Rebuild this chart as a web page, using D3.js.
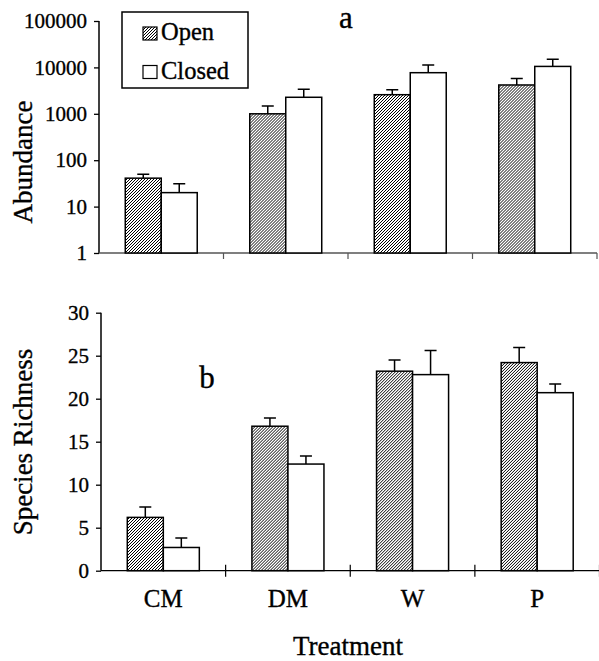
<!DOCTYPE html>
<html>
<head>
    <title>Abundance and species richness by treatment</title>
    <script src="https://cdnjs.cloudflare.com/ajax/libs/d3/7.8.5/d3.min.js"></script>
    <style>
        body { margin: 0; background: white; }
        text { font-family: "Liberation Serif", "DejaVu Serif", serif; fill: black;
               stroke: black; stroke-width: 0.35px; }
    </style>
</head>
<body>
<div id="graph"></div>
<script>
    var width = 599;
    var height = 661;

    // data
    var categories = ["CM", "DM", "W", "P"];
    var series = ["Open", "Closed"];
    var abundOpen = [41, 1000, 2580, 4180];
    var abundOpenErr = [9, 470, 720, 1550];
    var abundClosed = [20, 2270, 7690, 10500];
    var abundClosedErr = [11, 1100, 3510, 4400];
    var richOpen = [6.2, 16.8, 23.2, 24.2];
    var richOpenErr = [1.2, 0.95, 1.3, 1.75];
    var richClosed = [2.7, 12.4, 22.8, 20.7];
    var richClosedErr = [1.1, 0.95, 2.8, 1.0];
    var abundTicks = [1, 10, 100, 1000, 10000, 100000];
    var richTicks = [0, 5, 10, 15, 20, 25, 30];

    var svg = d3.select("#graph").append("svg")
            .attr("width", width)
            .attr("height", height)
            .attr("font-family", "'Liberation Serif', serif");

    var defs = svg.append("defs");
    var pat = defs.append("pattern")
            .attr("id", "hatch")
            .attr("patternUnits", "userSpaceOnUse")
            .attr("width", 3)
            .attr("height", 3);
    pat.append("rect").attr("width", 3).attr("height", 3).attr("fill", "white");
    pat.append("path")
            .attr("d", "M-1,1 L1,-1 M0,3 L3,0 M2,4 L4,2")
            .attr("stroke", "black")
            .attr("stroke-width", 1);

    function makeRows(open, openErr, closed, closedErr) {
        return categories.map(function (c, i) {
            return {
                cat: c,
                bars: [
                    {s: "Open", v: open[i], e: openErr[i]},
                    {s: "Closed", v: closed[i], e: closedErr[i]}
                ]
            };
        });
    }

    function panel(opt) {
        var g = svg.append("g");
        var x = d3.scaleBand().domain(categories).range(opt.xRange);
        var xs = d3.scaleBand().domain(series).range([0, x.bandwidth()]).paddingOuter(0.73);
        var y = opt.y;

        // y axis
        var ya = g.append("g")
                .attr("transform", "translate(" + opt.xRange[0] + ",0)")
                .call(d3.axisLeft(y).tickValues(opt.ticks).tickSize(5).tickPadding(7)
                        .tickFormat(d3.format("d")));
        ya.attr("font-family", null);
        ya.select(".domain").attr("stroke-width", 1.5).attr("d",
                "M0," + y.range()[0] + "V" + y.range()[1]);
        ya.selectAll(".tick line").attr("stroke-width", 1.3);
        ya.selectAll("text").attr("font-size", "21px");

        // x axis line and category boundary ticks
        var base = y.range()[0];
        g.append("line")
                .attr("x1", opt.xRange[0]).attr("x2", opt.xRange[1])
                .attr("y1", base).attr("y2", base)
                .attr("stroke", opt.axisColor).attr("stroke-width", 1.3);
        var bounds = categories.map(function (c) { return x(c); }).concat([opt.xRange[1]]);
        g.selectAll(".xt").data(bounds.slice(1)).enter().append("line")
                .attr("x1", function (d) { return d; })
                .attr("x2", function (d) { return d; })
                .attr("y1", base - opt.tickUp).attr("y2", base + 6)
                .attr("stroke", opt.axisColor).attr("stroke-width", 1.2);

        var grp = g.selectAll(".grp").data(opt.rows).enter().append("g")
                .attr("transform", function (d) { return "translate(" + x(d.cat) + ",0)"; });

        // error bars (upper half only)
        grp.selectAll(".err").data(function (d) { return d.bars; }).enter().append("path")
                .attr("fill", "none").attr("stroke", "black").attr("stroke-width", 1.5)
                .attr("d", function (d) {
                    var cx = xs(d.s) + xs.bandwidth() / 2;
                    var y0 = y(d.v), y1 = y(d.v + d.e);
                    return "M" + cx + "," + y0 + "V" + y1 + "M" + (cx - 6) + "," + y1 + "H" + (cx + 6);
                });

        grp.selectAll(".bar").data(function (d) { return d.bars; }).enter().append("rect")
                .attr("x", function (d) { return xs(d.s); })
                .attr("width", xs.bandwidth())
                .attr("y", function (d) { return y(d.v); })
                .attr("height", function (d) { return base - y(d.v); })
                .attr("fill", function (d) { return d.s == "Open" ? "url(#hatch)" : "white"; })
                .attr("stroke", "black")
                .attr("stroke-width", 1.5);

        // y title
        g.append("text")
                .attr("transform", "translate(32," + opt.titleY + ") rotate(-90)")
                .attr("text-anchor", "middle")
                .attr("font-size", "27px")
                .text(opt.title);

        g.append("text")
                .attr("x", opt.letter[0]).attr("y", opt.letter[1])
                .attr("text-anchor", "middle")
                .attr("font-size", "31px")
                .text(opt.letter[2]);

        return x;
    }

    panel({
        rows: makeRows(abundOpen, abundOpenErr, abundClosed, abundClosedErr),
        y: d3.scaleLog().domain([1, 100000]).range([253, 21]),
        ticks: abundTicks,
        xRange: [99, 597],
        axisColor: "#555",
        tickUp: 0,
        title: "Abundance",
        titleY: 162,
        letter: [346, 28, "a"]
    });

    var xb = panel({
        rows: makeRows(richOpen, richOpenErr, richClosed, richClosedErr),
        y: d3.scaleLinear().domain([0, 30]).range([570.7, 312.7]),
        ticks: richTicks,
        xRange: [101, 599.5],
        axisColor: "black",
        tickUp: 6,
        title: "Species Richness",
        titleY: 442,
        letter: [207, 388, "b"]
    });

    // category labels
    svg.selectAll(".cat").data(categories).enter().append("text")
            .attr("x", function (d) { return xb(d) + xb.bandwidth() / 2; })
            .attr("y", 607)
            .attr("text-anchor", "middle")
            .attr("font-size", "25px")
            .text(function (d) { return d; });

    svg.append("text")
            .attr("x", 348).attr("y", 655)
            .attr("text-anchor", "middle")
            .attr("font-size", "27px")
            .text("Treatment");

    // legend
    var leg = svg.append("g");
    leg.append("rect")
            .attr("x", 122).attr("y", 12).attr("width", 126).attr("height", 76)
            .attr("fill", "white").attr("stroke", "black").attr("stroke-width", 1.5);
    var items = leg.selectAll(".li").data(series).enter().append("g")
            .attr("transform", function (d, i) { return "translate(143," + (27 + i * 38.5) + ")"; });
    items.append("rect")
            .attr("width", 14).attr("height", 13)
            .attr("fill", function (d) { return d == "Open" ? "url(#hatch)" : "white"; })
            .attr("stroke", "black").attr("stroke-width", 1.2);
    items.append("text")
            .attr("x", 18).attr("y", 13)
            .attr("font-size", "24.5px")
            .text(function (d) { return d; });
</script>
</body>
</html>
